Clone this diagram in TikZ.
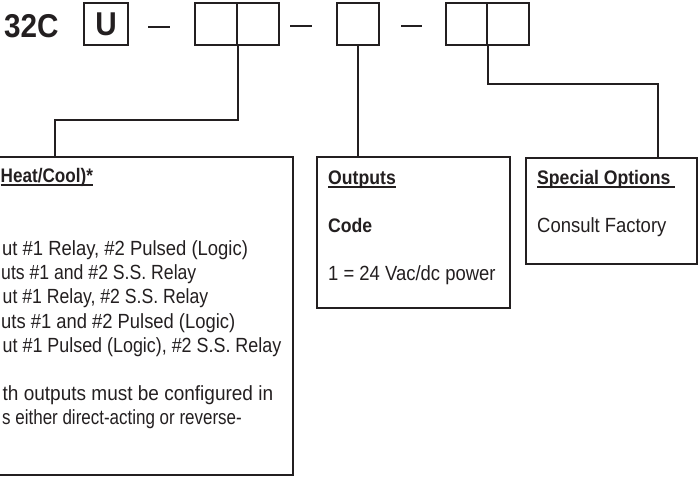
\documentclass[tikz,border=0pt]{standalone}
\usepackage{fontspec}
\setmainfont{Liberation Sans}[FakeStretch=0.9]
\definecolor{ink}{HTML}{231F20}
\begin{document}
\begin{tikzpicture}[x=1pt,y=-1pt,
  digit/.style={draw=ink,line width=1.6pt,minimum width=42pt,minimum height=42pt,inner sep=0pt},
  panel/.style={draw=ink,line width=2pt,inner sep=0pt},
  lead/.style={draw=ink,line width=1.6pt},
  dashline/.style={draw=ink,line width=2pt},
  txt/.style={inner sep=0pt,text=ink,font=\fontsize{20.5}{20.5}\selectfont},
  hd/.style={inner sep=0pt,text=ink,font=\fontsize{19.6}{19.6}\selectfont\bfseries},
  big/.style={inner sep=0pt,text=ink,font=\fontsize{33}{33}\selectfont\bfseries},
  uline/.style={draw=ink,line width=1.3pt}]
\useasboundingbox (0,0) rectangle (699,480);
% top code row
\node[big,anchor=base west] (pre) at (4,37) {32C};
\node[digit,minimum width=44pt,font=\fontsize{33}{33}\selectfont\bfseries,text=ink] (u) at (106,24) {U};
\draw[dashline] (148,27) -- (170,27);
\node[digit] (b2a) at (216,24) {};
\node[digit] (b2b) at (258,24) {};
\draw[dashline] (290,26) -- (312,26);
\node[digit] (b3) at (358,24) {};
\draw[dashline] (401,26) -- (422,26);
\node[digit,minimum width=41pt] (b4a) at (466.5,24) {};
\node[digit] (b4b) at (508,24) {};
% panels
\node[panel,minimum width=303pt,minimum height=318pt] (left) at (141.5,316) {};
\node[panel,minimum width=193pt,minimum height=151pt] (out) at (413.5,232.5) {};
\node[panel,minimum width=171pt,minimum height=106pt] (spec) at (611.5,211) {};
% leaders
\coordinate (c1) at (55,120);
\coordinate (c3) at (658,84);
\draw[lead] (b2a.south east) |- (c1) -- (c1 |- left.north);
\draw[lead] (b3.south) -- (b3.south |- out.north);
\draw[lead] (b4a.south east) |- (c3) -- (c3 |- spec.north);
% left panel text
\node[hd,anchor=base west] (lh) at (0.5,182) {\scalebox{0.97}[1]{Heat/Cool)*}};
\draw[uline] ([yshift=-3pt]lh.base west) -- ([yshift=-3pt]lh.base east);
\node[txt,anchor=base west] (l1) at (2,255) {ut \#1 Relay, \#2 Pulsed (Logic)};
\node[txt,anchor=base west] (l2) at (1,279) {\scalebox{0.956}[1]{uts \#1 and \#2 S.S. Relay}};
\node[txt,anchor=base west] (l3) at (2.5,303) {\scalebox{0.956}[1]{ut \#1 Relay, \#2 S.S. Relay}};
\node[txt,anchor=base west] (l4) at (1,328) {ut\scalebox{0.996}[1]{s \#1 and \#2 Pulsed (Logic)}};
\node[txt,anchor=base west] (l5) at (2.5,352) {\scalebox{0.97}[1]{ut \#1 Pulsed (Logic), \#2 S.S. Relay}};
\node[txt,anchor=base west] (l6) at (2.5,400) {\scalebox{1.03}[1]{th outputs must be configured in}};
\node[txt,anchor=base west] (l7) at (2,424) {\scalebox{0.92}[1]{s either direct-acting or reverse-}};
% outputs panel text
\node[hd,anchor=base west] (oh) at (328,184) {Outputs};
\draw[uline] ([yshift=-3pt]oh.base west) -- ([yshift=-3pt]oh.base east);
\node[hd,anchor=base west] (oc) at (328,232) {Code};
\node[txt,anchor=base west] (o1) at (328,280) {1 = 24 Vac/dc power};
% special options panel text
\node[hd,anchor=base west] (sh) at (537,184) {Special Options};
\draw[uline] ([yshift=-3pt]sh.base west) -- ([yshift=-3pt,xshift=4pt]sh.base east);
\node[txt,anchor=base west] (s1) at (537,232) {Consult Factory};
\end{tikzpicture}
\end{document}
